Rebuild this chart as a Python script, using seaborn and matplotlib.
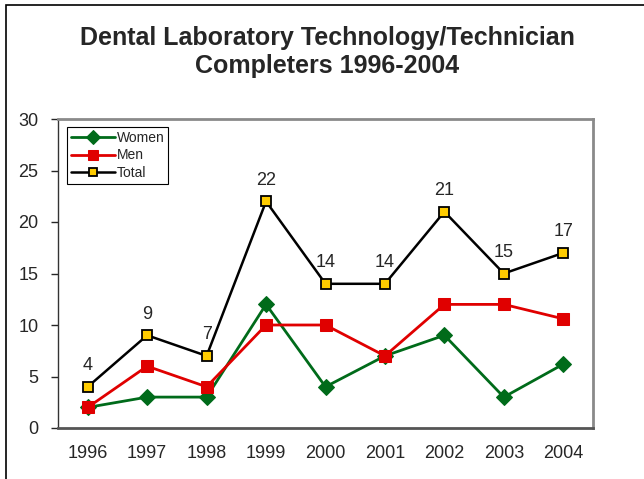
import numpy as np
import pandas as pd
import matplotlib
matplotlib.use("Agg")
import matplotlib.pyplot as plt
import seaborn as sns
from matplotlib.patches import Rectangle

# Chart data
years = [1996, 1997, 1998, 1999, 2000, 2001, 2002, 2003, 2004]
women = [2, 3, 3, 12, 4, 7, 9, 3, 6.2]
men = [2, 6, 4, 10, 10, 7, 12, 12, 10.6]
total = [4, 9, 7, 22, 14, 14, 21, 15, 17]
total_labels = ["4", "9", "7", "22", "14", "14", "21", "15", "17"]

sns.set_style("white")
plt.rcParams["font.family"] = ["Liberation Sans", "DejaVu Sans"]

df = pd.DataFrame({"year": years, "Women": women, "Men": men, "Total": total})

fig = plt.figure(figsize=(6.44, 4.79), dpi=100)
ax = fig.add_axes([58 / 644, 1 - 428 / 479, (593 - 58) / 644, (428 - 119) / 479])

# outer frame (only left/top visible in the crop)
fig.patches.append(Rectangle((6 / 644, -0.1), 1.2, 1 - 5 / 479 + 0.1,
                             transform=fig.transFigure, fill=False,
                             edgecolor="black", linewidth=1.2))

sns.lineplot(data=df, x="year", y="Women", ax=ax, color="#006b1a", linewidth=2,
             marker="D", markersize=8, markeredgecolor="#006b1a", label="Women")
sns.lineplot(data=df, x="year", y="Men", ax=ax, color="#e00000", linewidth=2,
             marker="s", markersize=8.5, markeredgecolor="#e00000", label="Men")
sns.lineplot(data=df, x="year", y="Total", ax=ax, color="black", linewidth=1.8,
             marker="s", markersize=7.5, markerfacecolor="#ffcc00",
             markeredgecolor="black", markeredgewidth=1.3, label="Total")

for x, y, t in zip(years, total, total_labels):
    ax.annotate(t, (x, y), xytext=(0, 9), textcoords="offset points",
                ha="center", va="bottom", fontsize=13)

ax.set_xlim(1995.5, 2004.5)
ax.set_ylim(0, 30)
ax.set_xticks(years)
ax.set_xticklabels([str(y) for y in years])
ax.set_yticks(range(0, 31, 5))
ax.set_xlabel("")
ax.set_ylabel("")
ax.tick_params(axis="x", length=0, labelsize=13, pad=12)
ax.tick_params(axis="y", length=5, width=1, direction="out", labelsize=13, pad=9, left=True)

for s in ["top", "right"]:
    ax.spines[s].set_color("#8a8a8a")
    ax.spines[s].set_linewidth(2)
ax.spines["left"].set_color("#333333")
ax.spines["left"].set_linewidth(1)
ax.spines["bottom"].set_color("#555555")
ax.spines["bottom"].set_linewidth(2)

leg = ax.legend(loc="upper left", bbox_to_anchor=(0.016, 0.975), fontsize=10,
                frameon=True, fancybox=False, framealpha=1, borderpad=0.3,
                labelspacing=0.25, handlelength=3.2, handletextpad=0.1,
                borderaxespad=0, markerscale=0.85)
leg.get_frame().set_edgecolor("black")
leg.get_frame().set_linewidth(0.8)

fig.text(327 / 644, 1 - 52 / 479, "Dental Laboratory Technology/Technician\nCompleters 1996-2004",
         ha="center", va="center", fontsize=18, fontweight="bold", linespacing=1.2)

fig.savefig("out.png", dpi=100)
